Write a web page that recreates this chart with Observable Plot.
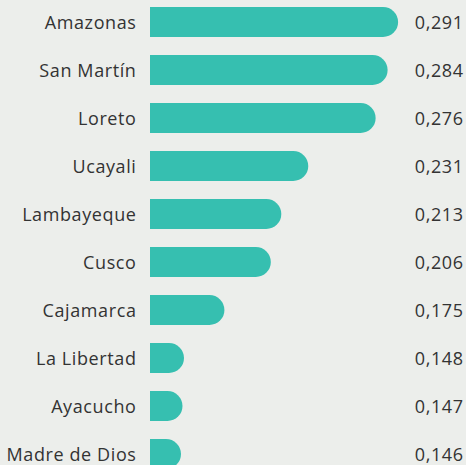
<!DOCTYPE html>
<html>
<head>
<meta charset="utf-8">
<script src="https://cdn.jsdelivr.net/npm/d3@7"></script>
<script src="https://cdn.jsdelivr.net/npm/@observablehq/plot@0.6"></script>
<style>
  html, body { margin: 0; padding: 0; background: #eceeeb; overflow: hidden; }
  #chart svg { background: #eceeeb; display: block; }
  #chart svg text { letter-spacing: 0.6px; }
</style>
</head>
<body>
<div id="chart"></div>
<script>
const regions = ["Amazonas", "San Martín", "Loreto", "Ucayali", "Lambayeque", "Cusco", "Cajamarca", "La Libertad", "Ayacucho", "Madre de Dios"];
const values = [0.291, 0.284, 0.276, 0.231, 0.213, 0.206, 0.175, 0.148, 0.147, 0.146];

const data = regions.map((r, i) => ({region: r, value: values[i]}));
const xMin = 0.1253;
const xMax = 0.291;
const radius = 15;
const plotLeft = 150, plotRight = 398.1;
const pxPerUnit = (plotRight - plotLeft) / (xMax - xMin);
const fmt = v => v.toFixed(3).replace(".", ",");

const chart = Plot.plot({
  width: 466,
  height: 480,
  marginLeft: plotLeft,
  marginRight: 466 - plotRight,
  marginTop: 0,
  marginBottom: 0,
  style: {background: "#eceeeb", fontFamily: "'Open Sans', sans-serif"},
  x: {domain: [xMin, xMax], axis: null},
  y: {domain: regions, range: [7, 469], paddingInner: 0.375, paddingOuter: 0, align: 0, axis: null},
  marks: [
    Plot.barX(data, {y: "region", x1: xMin, x2: "value", fill: "#36bfb0", rx: radius}),
    Plot.barX(data, {y: "region", x1: xMin, x2: d => Math.min(d.value, xMin + radius / pxPerUnit), fill: "#36bfb0"}),
    Plot.text(data, {y: "region", text: "region", frameAnchor: "left", textAnchor: "end", dx: -14, dy: 1, fill: "#333", fontSize: 18}),
    Plot.text(data, {y: "region", text: d => fmt(d.value), frameAnchor: "right", textAnchor: "start", dx: 16.2, dy: 1, fill: "#333", fontSize: 18})
  ]
});
document.getElementById("chart").append(chart);
</script>
</body>
</html>
